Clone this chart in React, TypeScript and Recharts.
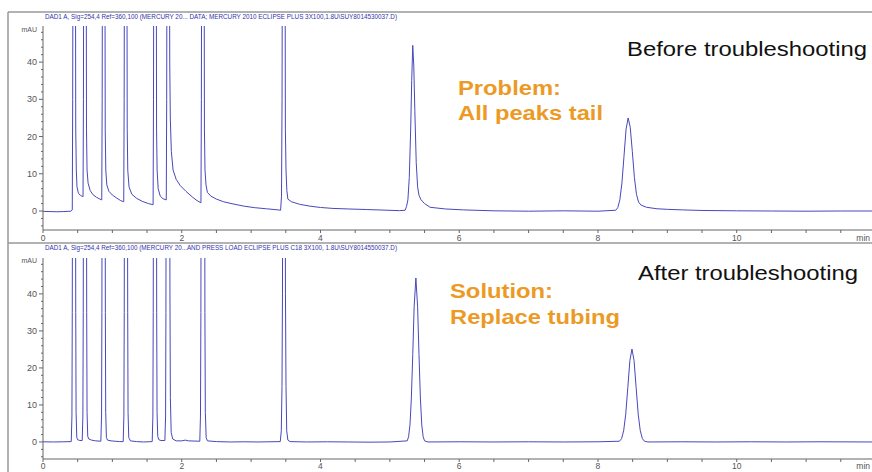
import { LineChart, Line, XAxis, YAxis } from "recharts";

// chromatogram traces: [time (min), signal (mAU)]
// tall peaks run off the top of the plot, so their apex is just a big number
const beforeTrace: [number, number][] = [
  [0, -0.1], [0.1, -0.15], [0.2, -0.2], [0.3, -0.15], [0.4, -0.05], [0.422, 0.3],
  [0.428, 30], [0.436, 120], [0.464, 120], [0.472, 22], [0.48, 11], [0.49, 6.5], [0.51, 4.8], [0.54, 4.2], [0.57, 3.9],
  [0.577, 3.8], [0.583, 30], [0.591, 120], [0.619, 120], [0.627, 22], [0.635, 11], [0.65, 7.5], [0.68, 5.5], [0.72, 4.4], [0.77, 3.7], [0.82, 3.2], [0.845, 3.0],
  [0.847, 3.0], [0.853, 30], [0.861, 120], [0.889, 120], [0.897, 22], [0.905, 11], [0.92, 7], [0.95, 5.3], [1.0, 4.3], [1.06, 3.5], [1.12, 2.8], [1.16, 2.5],
  [1.164, 2.5], [1.17, 30], [1.178, 120], [1.206, 120], [1.214, 22], [1.222, 11], [1.24, 6.5], [1.28, 4.5], [1.35, 3.4], [1.43, 2.6], [1.52, 2.0], [1.585, 1.7],
  [1.587, 1.7], [1.593, 30], [1.601, 120], [1.629, 120], [1.637, 22], [1.645, 11], [1.66, 6], [1.69, 4.0], [1.73, 3.3], [1.775, 3.0],
  [1.777, 3.0], [1.783, 30], [1.791, 120], [1.819, 120], [1.827, 40], [1.835, 25], [1.85, 16], [1.875, 11], [1.92, 8.5], [1.98, 6.8], [2.06, 5.3], [2.15, 3.8], [2.22, 2.8], [2.277, 2.2],
  [2.283, 30], [2.291, 120], [2.319, 120], [2.327, 22], [2.335, 11], [2.35, 7], [2.37, 5], [2.42, 4.0], [2.5, 3.2], [2.6, 2.5], [2.74, 1.9], [2.9, 1.3], [3.05, 0.9], [3.22, 0.6], [3.39, 0.3], [3.425, 0.2],
  [3.438, 4], [3.446, 30], [3.455, 120], [3.485, 120], [3.494, 22], [3.503, 11], [3.515, 5.5], [3.53, 3.2], [3.58, 2.5], [3.7, 1.8], [3.85, 1.3], [4.0, 0.95], [4.18, 0.7], [4.4, 0.55], [4.66, 0.4], [4.9, 0.25], [5.14, 0.1],
  [5.22, 0.2], [5.24, 1.2], [5.26, 3], [5.28, 9], [5.3, 22], [5.315, 35], [5.33, 44.5], [5.345, 39], [5.36, 27], [5.38, 13], [5.4, 6.5], [5.42, 4.2], [5.45, 3.0], [5.5, 2.0], [5.58, 1.0], [5.8, 0.55], [6.06, 0.3],
  [6.5, 0.05], [7.0, -0.05], [7.5, 0.05], [8.0, -0.05], [8.255, 0.2],
  [8.285, 0.9], [8.315, 3.0], [8.345, 7.5], [8.375, 14.7], [8.405, 22], [8.435, 25], [8.465, 22.5], [8.495, 16], [8.525, 9], [8.555, 4.5], [8.585, 2.4], [8.62, 1.6], [8.7, 1.0], [8.85, 0.6], [9.0, 0.45], [9.22, 0.3], [9.5, 0.15],
  [10.0, 0.05], [10.5, 0], [11.0, -0.05], [11.5, 0], [11.95, 0],
];

const afterTrace: [number, number][] = [
  [0, 0.05], [0.15, 0], [0.3, 0.05], [0.407, 0.1],
  [0.417, 7], [0.422, 35], [0.429, 120], [0.465, 120], [0.472, 35], [0.477, 8], [0.487, 1.2], [0.5, 0.6], [0.53, 0.4], [0.565, 0.4],
  [0.575, 7], [0.58, 35], [0.587, 120], [0.623, 120], [0.63, 35], [0.635, 8], [0.645, 1.5], [0.66, 0.8], [0.7, 0.5], [0.76, 0.3], [0.834, 0.2],
  [0.844, 7], [0.849, 35], [0.856, 120], [0.892, 120], [0.899, 35], [0.904, 8], [0.914, 1.2], [0.93, 0.5], [0.98, 0.3], [1.04, 0.2], [1.1, 0.1], [1.156, 0.1],
  [1.166, 7], [1.171, 35], [1.178, 120], [1.214, 120], [1.221, 35], [1.226, 8], [1.236, 1.2], [1.26, 0.3], [1.35, 0.1], [1.45, 0], [1.574, 0.1],
  [1.584, 7], [1.589, 35], [1.596, 120], [1.632, 120], [1.639, 35], [1.644, 8], [1.654, 1.5], [1.67, 0.6], [1.7, 0.4], [1.757, 0.4],
  [1.767, 7], [1.772, 35], [1.779, 120], [1.823, 120], [1.83, 40], [1.836, 12], [1.848, 2.5], [1.87, 0.8], [1.92, 0.3], [2.0, 0.3], [2.05, 0.5], [2.1, 0.3], [2.26, 0.2],
  [2.27, 7], [2.276, 35], [2.283, 120], [2.327, 120], [2.334, 35], [2.34, 8], [2.352, 1.2], [2.37, 0.3], [2.5, 0.1], [2.7, 0], [2.9, 0.05], [3.1, 0], [3.42, 0.1],
  [3.435, 3], [3.445, 15], [3.452, 40], [3.46, 120], [3.488, 120], [3.495, 40], [3.503, 15], [3.513, 3], [3.53, 0.5], [3.56, 0.1], [3.8, 0], [4.1, 0.05], [4.4, 0], [4.7, -0.05], [5.0, 0], [5.25, 0.3],
  [5.27, 1.4], [5.29, 4.6], [5.31, 11.9], [5.33, 23.6], [5.35, 36.5], [5.375, 44.3], [5.4, 36.5], [5.42, 23.6], [5.44, 11.9], [5.46, 4.6], [5.48, 1.4], [5.5, 0.3], [5.55, 0],
  [6.0, 0.05], [6.5, 0], [7.0, 0.05], [7.5, 0], [8.0, 0.05], [8.31, 0.2],
  [8.34, 0.9], [8.37, 3.0], [8.4, 7.5], [8.43, 14.7], [8.46, 22], [8.49, 25.1], [8.52, 22], [8.55, 14.7], [8.58, 7.5], [8.61, 3.0], [8.64, 0.9], [8.67, 0.2], [8.72, 0],
  [9.2, 0.05], [9.7, 0], [10.2, 0.05], [10.7, 0], [11.2, 0.05], [11.95, 0],
];

const timeTicks = [0, 0.5, 1, 1.5, 2, 2.5, 3, 3.5, 4, 4.5, 5, 5.5, 6, 6.5, 7, 7.5, 8, 8.5, 9, 9.5, 10, 10.5, 11, 11.5];
const timeLabels = [0, 2, 4, 6, 8, 10];
const mauTicks = [-4, -2, 0, 2, 4, 6, 8, 10, 12, 14, 16, 18, 20, 22, 24, 26, 28, 30, 32, 34, 36, 38, 40, 42, 44, 46, 48];
const mauLabels = [0, 10, 20, 30, 40];

const beforeHeader = "DAD1 A, Sig=254,4 Ref=360,100 (MERCURY 20... DATA; MERCURY 2010 ECLIPSE PLUS 3X100,1.8U\\SUY8014530037.D)";
const afterHeader = "DAD1 A, Sig=254,4 Ref=360,100 (MERCURY 20...AND PRESS LOAD ECLIPSE PLUS C18 3X100, 1.8U\\SUY8014550037.D)";

const TRACE = "#4848bc";
const AXIS = "#666";
const LABEL = "#555";
const ORANGE = "#ec9a25";
const SMALL_FONT = "'Liberation Sans Narrow', 'Arial Narrow', 'Liberation Sans', sans-serif";
const BIG_FONT = "'Liberation Sans', Arial, sans-serif";

const toRows = (trace: [number, number][]) => trace.map(([t, y]) => ({ t, y }));

function TimeTick({ x, y, payload, labelGap }: any) {
  const v = payload.value;
  return (
    <g>
      <line x1={x} x2={x} y1={y} y2={y + 3} stroke={AXIS} />
      {timeLabels.includes(v) && (
        <text x={x} y={y + labelGap} textAnchor="middle" fontSize={8.5} fontFamily={SMALL_FONT} fill={LABEL}>
          {v}
        </text>
      )}
    </g>
  );
}

function MauTick({ x, y, payload }: any) {
  const v = payload.value;
  const major = mauLabels.includes(v);
  return (
    <g>
      <line x1={x - (major ? 4 : 2)} x2={x} y1={y} y2={y} stroke={AXIS} />
      {major && (
        <text x={x - 6} y={y + 3} textAnchor="end" fontSize={9} fontFamily={SMALL_FONT} fill={LABEL}>
          {v}
        </text>
      )}
    </g>
  );
}

interface PanelProps {
  trace: [number, number][];
  height: number;
  top: number;
  bottom: number;
  yMin: number;
  labelGap: number;
}

function Panel({ trace, height, top, bottom, yMin, labelGap }: PanelProps) {
  return (
    <LineChart width={872} height={height} data={toRows(trace)} margin={{ top, right: 0, bottom: 0, left: 0 }}>
      <XAxis
        type="number"
        dataKey="t"
        domain={[0, 11.95]}
        ticks={timeTicks}
        interval={0}
        allowDataOverflow
        height={bottom}
        tickSize={0}
        tickMargin={0}
        tickLine={false}
        tick={<TimeTick labelGap={labelGap} />}
        stroke={AXIS}
      />
      <YAxis
        type="number"
        domain={[yMin, 49.7]}
        ticks={mauTicks}
        interval={0}
        allowDataOverflow
        width={43}
        tickSize={0}
        tickMargin={0}
        tickLine={false}
        tick={<MauTick />}
        stroke={AXIS}
      />
      <Line type="linear" dataKey="y" stroke={TRACE} strokeWidth={1} dot={false} isAnimationActive={false} />
    </LineChart>
  );
}

export default function App() {
  return (
    <div style={{ position: "absolute", left: 0, top: 0, width: 872, height: 472, background: "#fff", overflow: "hidden" }}>
      <div style={{ position: "absolute", left: 0, top: 0 }}>
        <Panel trace={beforeTrace} height={243} top={26} bottom={13} yMin={-5.1} labelGap={11} />
      </div>
      <div style={{ position: "absolute", left: 0, top: 243 }}>
        <Panel trace={afterTrace} height={229} top={15} bottom={13} yMin={-4.6} labelGap={10} />
      </div>
      <svg width={872} height={472} style={{ position: "absolute", left: 0, top: 0, pointerEvents: "none" }}>
        <line x1={8} x2={8} y1={12} y2={472} stroke="#999" strokeWidth={1.5} />
        <line x1={8} x2={872} y1={12} y2={12} stroke="#999" strokeWidth={1.5} />
        <line x1={8} x2={872} y1={243} y2={243} stroke="#999" strokeWidth={1.5} />

        <text x={45} y={19} fontSize={8} fontFamily={SMALL_FONT} fill="#3333aa" textLength={352} lengthAdjust="spacingAndGlyphs">
          {beforeHeader}
        </text>
        <text x={45} y={250} fontSize={8} fontFamily={SMALL_FONT} fill="#3333aa" textLength={352} lengthAdjust="spacingAndGlyphs">
          {afterHeader}
        </text>

        <text x={37} y={32} textAnchor="end" fontSize={7} fontFamily={SMALL_FONT} fill={LABEL}>mAU</text>
        <text x={37} y={263} textAnchor="end" fontSize={7} fontFamily={SMALL_FONT} fill={LABEL}>mAU</text>
        <text x={870} y={241} textAnchor="end" fontSize={8.5} fontFamily={SMALL_FONT} fill={LABEL}>min</text>
        <text x={870} y={469} textAnchor="end" fontSize={8.5} fontFamily={SMALL_FONT} fill={LABEL}>min</text>

        <text x={627} y={56} fontSize={20} fontFamily={BIG_FONT} fill="#111" textLength={240} lengthAdjust="spacingAndGlyphs">
          Before troubleshooting
        </text>
        <text x={458} y={95} fontSize={20} fontWeight="bold" fontFamily={BIG_FONT} fill={ORANGE} textLength={103} lengthAdjust="spacingAndGlyphs">
          Problem:
        </text>
        <text x={458} y={120} fontSize={20} fontWeight="bold" fontFamily={BIG_FONT} fill={ORANGE} textLength={145} lengthAdjust="spacingAndGlyphs">
          All peaks tail
        </text>

        <text x={638} y={280} fontSize={20} fontFamily={BIG_FONT} fill="#111" textLength={220} lengthAdjust="spacingAndGlyphs">
          After troubleshooting
        </text>
        <text x={450} y={298} fontSize={20} fontWeight="bold" fontFamily={BIG_FONT} fill={ORANGE} textLength={103} lengthAdjust="spacingAndGlyphs">
          Solution:
        </text>
        <text x={450} y={324} fontSize={20} fontWeight="bold" fontFamily={BIG_FONT} fill={ORANGE} textLength={170} lengthAdjust="spacingAndGlyphs">
          Replace tubing
        </text>
      </svg>
    </div>
  );
}
